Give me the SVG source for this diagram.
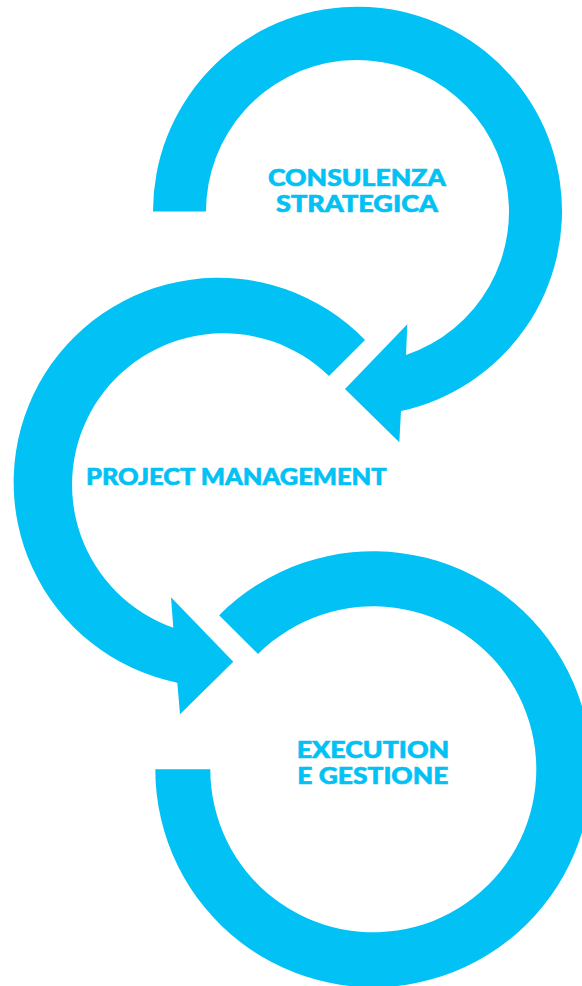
<svg xmlns="http://www.w3.org/2000/svg" width="582" height="986" viewBox="0 0 582 986">
<style>
.ring{fill:#02c1f4;stroke:none}
.lbl{fill:#02c1f4;stroke:#02c1f4;stroke-width:0.6px;font-family:"Lato","Liberation Sans",sans-serif;font-weight:900;font-size:23px;text-anchor:middle}
</style>
<rect width="582" height="986" fill="#ffffff"/>
<g id="node-consulenza">
<path class="ring" d="M 153 211.5 A 204.5 204.5 0 1 1 401 411 L 399.3 442.3 L 345 389 L 407.3 324.3 L 406 355 A 151.5 151.5 0 1 0 206 211.5 Z"/>
<text class="lbl" x="357" y="186" textLength="178" lengthAdjust="spacingAndGlyphs">CONSULENZA</text>
<text class="lbl" x="357" y="212.3" textLength="162" lengthAdjust="spacingAndGlyphs">STRATEGICA</text>
</g>
<g id="node-project-management">
<path class="ring" d="M 365 340 A 204.5 204.5 0 1 0 177.3 682.7 L 180 714.3 L 233.3 661.7 L 171 597.3 L 173.3 627.7 A 151.5 151.5 0 1 1 329 376 Z"/>
<text class="lbl" x="236.3" y="485" textLength="300.7" lengthAdjust="spacingAndGlyphs">PROJECT MANAGEMENT</text>
</g>
<g id="node-execution">
<path class="ring" d="M 219.15 615.15 A 218 218 0 1 1 155.3 769.3 L 210.3 769.3 A 163 163 0 1 0 258.04 654.04 Z"/>
<text class="lbl" x="373" y="758.3" textLength="152.6" lengthAdjust="spacingAndGlyphs">EXECUTION</text>
<text class="lbl" x="372.8" y="784.3" textLength="151" lengthAdjust="spacingAndGlyphs">E GESTIONE</text>
</g>
</svg>
